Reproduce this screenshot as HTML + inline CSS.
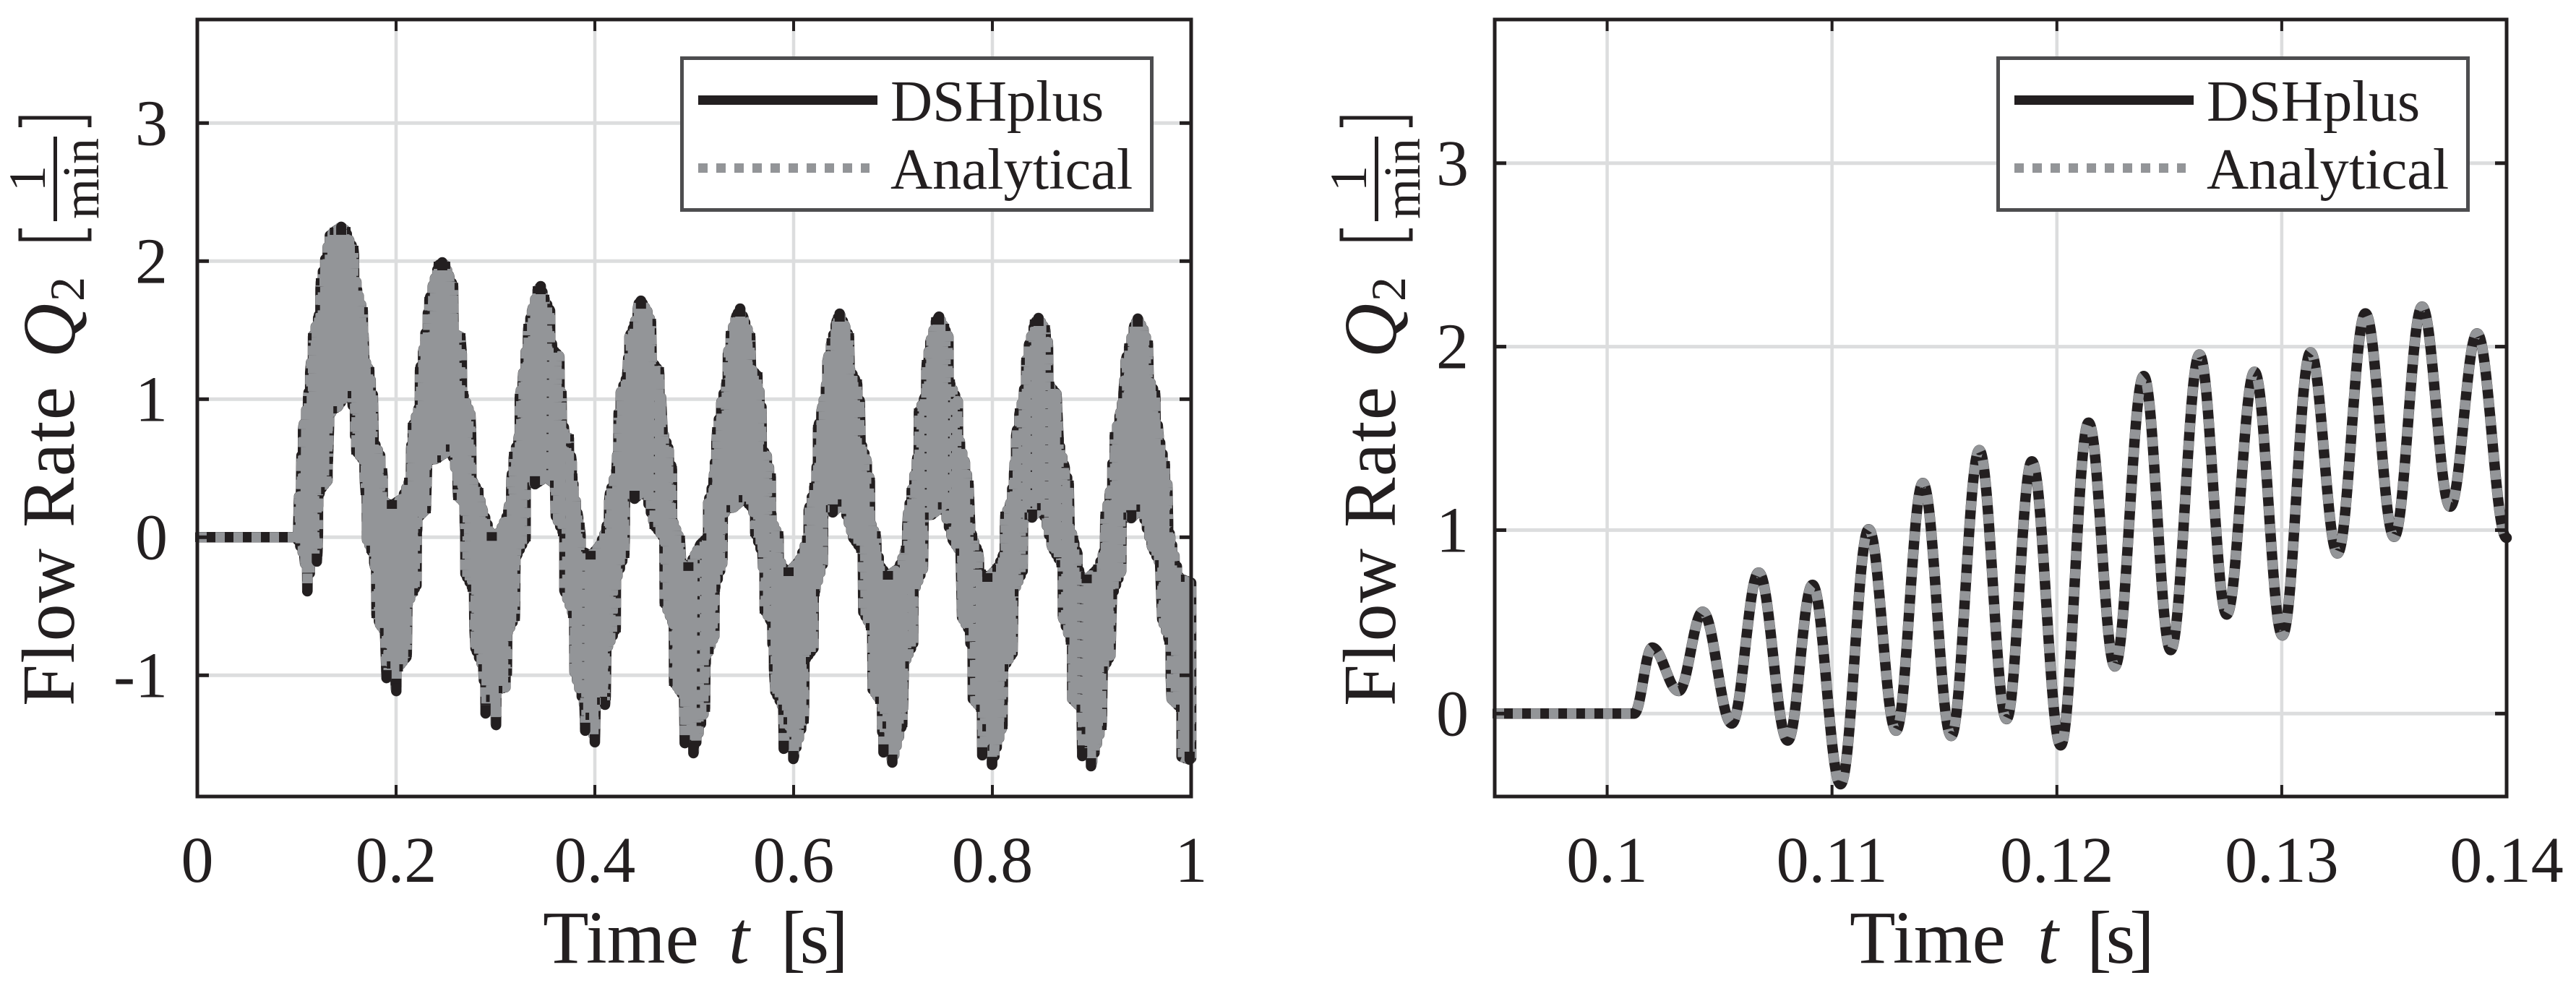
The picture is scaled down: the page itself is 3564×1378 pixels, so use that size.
<!DOCTYPE html>
<html lang="en">
<head>
<meta charset="utf-8">
<title>Flow Rate Q2 comparison: DSHplus vs Analytical</title>
<style>
html,body{margin:0;padding:0;background:#fff;}
svg{display:block;}
text{font-family:"Liberation Serif","DejaVu Serif",serif;fill:#231f20;}
</style>
</head>
<body>
<svg id="figure" xmlns="http://www.w3.org/2000/svg" width="3564" height="1378" viewBox="0 0 3564 1378">
  <rect x="0" y="0" width="3564" height="1378" fill="#ffffff"/>
  <defs>
    <clipPath id="clip-left"><rect x="270" y="20" width="1386" height="1090"/></clipPath>
    <clipPath id="clip-right"><rect x="2065" y="20" width="1411" height="1090"/></clipPath>
  </defs>
  <g id="panel-left"></g>
  <g id="panel-right"></g>

  <g>
    <text transform="translate(102,977) rotate(-90)" font-size="104" textLength="442" lengthAdjust="spacing">Flow Rate</text>
    <text transform="translate(103,495) rotate(-90)" font-size="104" font-style="italic">Q</text>
    <text transform="translate(116,417) rotate(-90)" font-size="68">2</text>
    <path d="M28,316V331H124V316" fill="none" stroke="#231f20" stroke-width="5"/>
    <path d="M28,176V163H124V176" fill="none" stroke="#231f20" stroke-width="5"/>
    <text transform="translate(62,247) rotate(-90)" font-size="72" text-anchor="middle">1</text>
    <rect x="74" y="189" width="5" height="117" fill="#231f20"/>
    <text transform="translate(136,247) rotate(-90)" font-size="72" text-anchor="middle">min</text>
  </g>
  <g>
    <text x="751" y="1332" font-size="104">Time</text>
    <text x="1008" y="1332" font-size="104" font-style="italic">t</text>
    <text x="1080" y="1332" font-size="104" letter-spacing="-8">[s]</text>
  </g>

  <g>
    <text transform="translate(1930,977) rotate(-90)" font-size="104" textLength="442" lengthAdjust="spacing">Flow Rate</text>
    <text transform="translate(1931,495) rotate(-90)" font-size="104" font-style="italic">Q</text>
    <text transform="translate(1944,417) rotate(-90)" font-size="68">2</text>
    <path d="M1856,316V331H1952V316" fill="none" stroke="#231f20" stroke-width="5"/>
    <path d="M1856,176V163H1952V176" fill="none" stroke="#231f20" stroke-width="5"/>
    <text transform="translate(1890,247) rotate(-90)" font-size="72" text-anchor="middle">1</text>
    <rect x="1902" y="189" width="5" height="117" fill="#231f20"/>
    <text transform="translate(1964,247) rotate(-90)" font-size="72" text-anchor="middle">min</text>
  </g>
  <g>
    <text x="2559" y="1332" font-size="104">Time</text>
    <text x="2819" y="1332" font-size="104" font-style="italic">t</text>
    <text x="2887" y="1332" font-size="104" letter-spacing="-8">[s]</text>
  </g>

  <g id="legend-left">
    <rect x="943.5" y="80.5" width="650" height="210" fill="#ffffff" stroke="#4d4d4f" stroke-width="5"/>
    <line x1="966" y1="138.5" x2="1214" y2="138.5" stroke="#231f20" stroke-width="13"/>
    <text x="1232" y="167" font-size="80.5">DSHplus</text>
    <line x1="966" y1="232.5" x2="1203" y2="232.5" stroke="#939598" stroke-width="13" stroke-dasharray="13 12"/>
    <text x="1232" y="261" font-size="80.5">Analytical</text>
  </g>
  <g id="legend-right">
    <rect x="2764.5" y="80.5" width="650" height="210" fill="#ffffff" stroke="#4d4d4f" stroke-width="5"/>
    <line x1="2787" y1="138.5" x2="3035" y2="138.5" stroke="#231f20" stroke-width="13"/>
    <text x="3053" y="167" font-size="80.5">DSHplus</text>
    <line x1="2787" y1="232.5" x2="3024" y2="232.5" stroke="#939598" stroke-width="13" stroke-dasharray="13 12"/>
    <text x="3053" y="261" font-size="80.5">Analytical</text>
  </g>
</svg>

<script>
/* ---------- left panel: tick values and labels ---------- */
var leftXTicks = [0, 0.2, 0.4, 0.6, 0.8, 1];
var leftXTickLabels = ["0", "0.2", "0.4", "0.6", "0.8", "1"];
var leftYTicks = [-1, 0, 1, 2, 3];
var leftYTickLabels = ["-1", "0", "1", "2", "3"];

/* ---------- left panel: flow-rate band (upper edge) ---------- */
var upperTimes = [
0.1,0.1064,0.1114,0.1136,0.1164,0.1224,0.1244,0.1334,0.1384,0.1448,0.1491,0.1527,0.1571,0.1607,0.1665,0.1679,0.173,0.1766,0.1774,0.1839,0.186,0.1889,
0.1958,0.206,0.2132,0.2154,0.2169,0.2227,0.2241,0.2277,0.2335,0.2371,0.2429,0.2465,0.2494,0.2531,0.2574,0.2578,0.2647,0.2661,0.2675,0.2748,0.2755,0.277,0.2828,0.2864,
0.2963,0.3043,0.3129,0.3166,0.3187,0.3238,0.3245,0.3274,0.3332,0.3368,0.3426,0.3455,0.3491,0.3549,0.3571,0.3643,0.3665,0.3694,0.3738,0.3767,0.3774,0.3825,0.3846,0.3875,
0.3957,0.4044,0.4116,0.4152,0.4218,0.4225,0.4239,0.4261,0.4326,0.4348,0.4399,0.4442,0.4464,0.4529,0.4565,0.4572,0.4645,0.4666,0.4681,0.4739,0.4775,0.479,0.4855,0.4869,
0.4941,0.5064,0.5137,0.514,0.5194,0.5209,0.5231,0.5274,0.5325,0.5339,0.5368,0.5426,0.5462,0.5498,0.5564,0.5571,0.5636,0.5676,0.5679,0.573,0.577,0.5777,0.5846,0.5875,
0.5949,0.6058,0.6137,0.6152,0.621,0.6231,0.6246,0.6289,0.6325,0.634,0.6383,0.6434,0.6463,0.6513,0.6557,0.6564,0.6637,0.6666,0.6673,0.6731,0.6767,0.6774,0.6825,0.6868,
0.6949,0.7058,0.713,0.7152,0.7188,0.7246,0.7261,0.7319,0.734,0.7376,0.7434,0.7463,0.7514,0.7557,0.7572,0.7652,0.7674,0.7724,0.776,0.7775,0.7796,0.7854,0.7883,
0.795,0.8051,0.8109,0.8131,0.8182,0.8218,0.8239,0.8276,0.8316,0.8341,0.837,0.8428,0.8464,0.8529,0.8558,0.8572,0.8645,0.8667,0.8721,0.8768,0.8775,0.8812,0.8855,0.8877,
0.8949,0.9065,0.9123,0.9138,0.9181,0.9232,0.929,0.9319,0.934,0.9377,0.9428,0.9463,0.9521,0.9565,0.9572,0.9637,0.9673,0.9735,0.976,0.9768,0.9789,0.9883,0.9956,1];
var upperValues = [
0,0.787,0.996,1.19,1.452,1.609,1.85,2.185,2.216,2.248,2.221,2.153,2.085,1.792,1.64,1.295,1.206,1.033,0.698,0.593,0.473,0.248,
0.232,0.279,0.405,0.666,0.803,0.933,1.206,1.363,1.714,1.824,1.97,1.991,1.97,1.897,1.817,1.478,1.452,1.326,1.033,0.892,0.735,0.405,0.331,0.211,
0,0.038,0.174,0.457,0.593,0.735,1.012,1.153,1.52,1.64,1.792,1.818,1.73,1.64,1.363,1.31,1.033,0.735,0.719,0.541,0.436,0.174,0.08,-0.103,
-0.135,-0.066,0.054,0.316,0.489,0.593,0.892,1.049,1.169,1.452,1.536,1.693,1.713,1.635,1.556,1.274,1.206,1.012,0.771,0.646,0.489,0.106,-0.014,-0.192,
-0.218,-0.051,0.002,0.248,0.405,0.541,0.771,0.981,1.117,1.326,1.468,1.604,1.656,1.583,1.452,1.221,1.169,0.944,0.646,0.588,0.436,0.122,0.017,-0.208,
-0.255,-0.171,-0.014,0.195,0.368,0.489,0.787,0.944,1.064,1.274,1.415,1.567,1.619,1.536,1.452,1.221,1.117,0.981,0.698,0.562,0.405,0.106,0.017,-0.208,
-0.281,-0.224,-0.087,0.174,0.331,0.577,0.907,1.012,1.258,1.415,1.567,1.598,1.52,1.452,1.117,0.981,0.666,0.541,0.384,0.106,0.002,-0.103,-0.26,
-0.297,-0.224,-0.129,0.159,0.248,0.457,0.735,0.907,1.033,1.274,1.399,1.551,1.588,1.51,1.415,1.101,1.038,0.698,0.525,0.384,0.106,-0.014,-0.119,-0.276,
-0.307,-0.224,-0.103,0.159,0.305,0.735,0.907,1.033,1.274,1.378,1.53,1.583,1.504,1.399,1.153,1.038,0.735,0.525,0.384,0.106,0.002,-0.297,-0.318,-0.33];

/* ---------- left panel: flow-rate band (lower edge) ---------- */
var lowerTimes = [
0.1,0.1078,0.1107,0.1158,0.1202,0.1209,0.1214,0.1216,0.1231,0.131,0.1314,0.1326,0.1354,0.1412,0.1498,0.1556,0.16,0.1672,0.1694,0.1708,0.1752,0.1788,0.1803,0.1839,0.1889,0.1904,
0.1958,0.2002,0.2018,0.2103,0.2108,0.2113,0.2169,0.2205,0.2208,0.2227,0.2299,0.2313,0.24,0.2502,0.2552,0.2596,0.2625,0.2675,0.2697,0.2698,0.277,0.2799,0.2878,0.29,
0.2956,0.3006,0.3018,0.31,0.3115,0.3118,0.3195,0.3209,0.3303,0.331,0.3397,0.3506,0.36,0.3607,0.368,0.3694,0.3781,0.3796,0.3897,0.3903,
0.3957,0.4,0.4008,0.4102,0.4109,0.4115,0.421,0.4212,0.4297,0.4312,0.4399,0.45,0.4601,0.4695,0.4703,0.479,0.4797,0.4898,0.4905,
0.4941,0.4992,0.5093,0.5108,0.5112,0.5144,0.5202,0.5209,0.5281,0.531,0.5397,0.5499,0.5593,0.5614,0.5687,0.5709,0.5774,0.5803,0.5817,0.5897,0.5901,
0.5949,0.5997,0.6101,0.6105,0.6109,0.6199,0.621,0.6294,0.6311,0.6394,0.6496,0.66,0.6681,0.6702,0.6778,0.6796,0.6872,0.6905,
0.6945,0.6993,0.7094,0.7101,0.7109,0.7203,0.7205,0.7301,0.7308,0.7391,0.7503,0.7601,0.7681,0.7695,0.7775,0.7804,0.7887,0.7898,
0.795,0.7997,0.8102,0.8105,0.8109,0.8203,0.8211,0.8305,0.8309,0.8399,0.85,0.8602,0.8696,0.871,0.879,0.8804,0.8898,0.8904,
0.8949,0.8993,0.9098,0.9101,0.9109,0.9188,0.9203,0.9297,0.9304,0.9398,0.95,0.9608,0.9688,0.9709,0.9782,0.9804,0.9898,0.9904,0.9985,1];
var lowerValues = [
0,-0.14,-0.391,-0.124,-0.176,-0.107,0.033,0.227,0.337,0.41,0.557,0.834,0.923,0.944,1.033,1.028,0.625,0.557,0.331,-0.019,-0.087,-0.213,-0.559,-0.632,-0.684,-1.02,
-0.925,-1.114,-0.946,-0.868,-0.841,-0.491,-0.396,-0.349,0.033,0.148,0.2,0.557,0.567,0.614,0.646,0.504,0.295,0.258,0.033,-0.265,-0.369,-0.805,-0.946,-1.276,
-1.167,-1.36,-1.103,-1.087,-0.977,-0.7,-0.58,-0.14,-0.004,0.436,0.384,0.436,0.384,0.153,0.033,-0.386,-0.559,-0.977,-1.224,-1.401,
-1.297,-1.485,-1.187,-1.213,-1.155,-0.82,-0.663,-0.317,-0.124,0.384,0.279,0.342,0.085,-0.004,-0.474,-0.632,-1.051,-1.155,-1.491,
-1.292,-1.564,-1.281,-1.239,-0.925,-0.82,-0.716,-0.369,-0.192,0.206,0.216,0.279,0.206,0.033,-0.124,-0.527,-0.611,-0.946,-1.119,-1.239,-1.532,
-1.33,-1.606,-1.323,-1.239,-0.894,-0.805,-0.402,-0.192,0.206,0.18,0.248,-0.004,-0.087,-0.543,-0.648,-1.103,-1.181,-1.558,
-1.36,-1.632,-1.349,-1.239,-0.925,-0.768,-0.402,-0.229,0.153,0.164,0.227,-0.019,-0.108,-0.579,-0.684,-1.171,-1.239,-1.579,
-1.38,-1.648,-1.364,-1.187,-0.946,-0.841,-0.402,-0.244,0.153,0.143,0.221,-0.071,-0.192,-0.579,-0.752,-1.171,-1.239,-1.585,
-1.4,-1.658,-1.37,-1.328,-0.962,-0.857,-0.423,-0.244,0.153,0.138,0.211,-0.071,-0.192,-0.595,-0.752,-1.171,-1.239,-1.59,-1.611,-1.6];

/* ---------- right panel: tick values and labels ---------- */
var rightXTicks = [0.1, 0.11, 0.12, 0.13, 0.14];
var rightXTickLabels = ["0.1", "0.11", "0.12", "0.13", "0.14"];
var rightYTicks = [0, 1, 2, 3];
var rightYTickLabels = ["0", "1", "2", "3"];

/* ---------- right panel: turning points of the flow rate ---------- */
var zoomTimes = [0.095,0.1012,0.102,0.10318,0.10425,0.10554,0.10674,0.10803,0.10913,0.11038,0.11163,0.11285,0.11404,0.1153,0.11655,0.11776,0.11889,0.12017,0.12141,0.12258,0.12386,0.12506,0.12634,0.12755,0.12879,0.13003,0.13128,0.13248,0.13372,0.135,0.13624,0.13749,0.13869,0.14];
var zoomValues = [0,0,0.36,0.123,0.555,-0.054,0.769,-0.147,0.702,-0.385,1.005,-0.093,1.257,-0.122,1.436,-0.03,1.375,-0.173,1.586,0.257,1.84,0.346,1.957,0.54,1.863,0.426,1.969,0.873,2.181,0.963,2.218,1.128,2.072,0.958];

/* ---------- helpers ---------- */
var NS = "http://www.w3.org/2000/svg";
var INK = "#231f20", GRAY = "#939598", GRID = "#dcddde";

function make(tag, attrs, parent) {
  var el = document.createElementNS(NS, tag);
  for (var k in attrs) el.setAttribute(k, attrs[k]);
  parent.appendChild(el);
  return el;
}
function scale(d0, d1, r0, r1) {
  return function (v) { return r0 + (v - d0) * (r1 - r0) / (d1 - d0); };
}
function lerpAt(ts, vs, t) {
  if (t <= ts[0]) return vs[0];
  for (var i = 1; i < ts.length; i++) {
    if (t <= ts[i]) {
      var dt = ts[i] - ts[i - 1];
      if (dt <= 0) return vs[i];
      return vs[i - 1] + (vs[i] - vs[i - 1]) * (t - ts[i - 1]) / dt;
    }
  }
  return vs[vs.length - 1];
}

function drawGrid(g, b, x, y, xt, yt) {
  var i, el;
  for (i = 0; i < xt.length; i++) {
    if (x(xt[i]) > b.l + 3 && x(xt[i]) < b.r - 3) {
      el = make("line", {x1: x(xt[i]), x2: x(xt[i]), y1: b.t, y2: b.b, stroke: GRID, "stroke-width": 4.5}, g);
      
      
    }
  }
  for (i = 0; i < yt.length; i++) {
    el = make("line", {x1: b.l, x2: b.r, y1: y(yt[i]), y2: y(yt[i]), stroke: GRID, "stroke-width": 5}, g);
    
    
  }
}
function drawAxes(g, b, x, y, xt, xl, yt, yl, labelX) {
  var i, el, px, py;
  el = make("rect", {x: b.l, y: b.t, width: b.r - b.l, height: b.b - b.t, fill: "none", stroke: INK, "stroke-width": 5}, g);
  
  
  for (i = 0; i < xt.length; i++) {
    px = x(xt[i]);
    if (px > b.l + 3 && px < b.r - 3) {
      el = make("line", {x1: px, x2: px, y1: b.t, y2: b.t + 16, stroke: INK, "stroke-width": 4}, g);
      
      
      el = make("line", {x1: px, x2: px, y1: b.b, y2: b.b - 16, stroke: INK, "stroke-width": 4}, g);
      
      
    }
    el = make("text", {x: px, y: 1220, "font-size": 90, "text-anchor": "middle"}, g);
    
    
    el.textContent = xl[i];
  }
  for (i = 0; i < yt.length; i++) {
    py = y(yt[i]);
    el = make("line", {x1: b.l, x2: b.l + 16, y1: py, y2: py, stroke: INK, "stroke-width": 5}, g);
    
    
    el = make("line", {x1: b.r, x2: b.r - 16, y1: py, y2: py, stroke: INK, "stroke-width": 5}, g);
    
    
    el = make("text", {x: labelX, y: py + 30, "font-size": 90, "text-anchor": "end"}, g);
    
    
    el.textContent = yl[i];
  }
}
function drawSeries(g, d, clip) {
  var c = make("g", {"clip-path": "url(#" + clip + ")"}, g);
  
  
  var el = make("path", {d: d, fill: "none", stroke: INK, "stroke-width": 14.5, "stroke-linejoin": "round", "stroke-linecap": "round"}, c);
  
  
  el = make("path", {d: d, fill: "none", stroke: GRAY, "stroke-width": 14, "stroke-linejoin": "round", "stroke-linecap": "butt", "stroke-dasharray": "13 12"}, c);
  
  
  return c;
}
/* black marks of the DSHplus line that show through at the band's corners and tips */
function edgeMarks(ts, vs, x, y, isUpper) {
  var d = "";
  for (var i = 1; i < ts.length - 1; i++) {
    var q = vs[i], a = vs[i - 1], b = vs[i + 1], px = x(ts[i]), py = y(q);
    var outerTip = isUpper ? (q >= a && q >= b) : (q <= a && q <= b);
    var innerTip = isUpper ? (q <= a && q <= b) : false;
    if (outerTip) {
      if (isUpper) {
        d += "M" + (px - 7).toFixed(1) + "," + (py + 11).toFixed(1) + "V" + py.toFixed(1) + "A7 7 0 0 1 " + (px + 7).toFixed(1) + "," + py.toFixed(1) + "V" + (py + 11).toFixed(1) + "Z";
      } else {
        d += "M" + (px - 7).toFixed(1) + "," + (py - 11).toFixed(1) + "V" + py.toFixed(1) + "A7 7 0 0 0 " + (px + 7).toFixed(1) + "," + py.toFixed(1) + "V" + (py - 11).toFixed(1) + "Z";
      }
    } else if (innerTip) {
      d += "M" + (px - 7).toFixed(1) + "," + (py - 7).toFixed(1) + "h14v12h-14Z";
    } else if (i % 2 === 0) {
      var rising = b > a;
      var leftSide = isUpper ? rising : !rising;
      var sx = leftSide ? px - 7 : px + 2;
      d += "M" + sx.toFixed(1) + "," + (py - 5).toFixed(1) + "h5v10h-5Z";
    }
  }
  return d;
}

/* ---------- left panel ---------- */
(function () {
  var g = document.getElementById("panel-left");
  var b = {l: 273, r: 1648, t: 27, b: 1102};
  var x = scale(0, 1, b.l, b.r);
  var y = scale(-1.878, 3.75, b.b, b.t);
  drawGrid(g, b, x, y, leftXTicks, leftYTicks);

  var verts = [];
  var step = 0.0012, start = upperTimes[0], n = Math.round((1 - start) / step), i;
  for (i = 1; i <= n; i++) {
    var t = start + i * step;
    verts.push({t: t, q: (i % 2) ? lerpAt(lowerTimes, lowerValues, t) : lerpAt(upperTimes, upperValues, t)});
  }
  for (i = 0; i < upperTimes.length; i++) verts.push({t: upperTimes[i], q: upperValues[i]});
  for (i = 0; i < lowerTimes.length; i++) verts.push({t: lowerTimes[i], q: lowerValues[i]});
  verts.sort(function (p, r) { return p.t - r.t; });

  var d = "M" + x(0) + "," + y(0);
  for (i = 0; i < verts.length; i++) {
    d += "L" + x(verts[i].t).toFixed(1) + "," + y(verts[i].q).toFixed(1);
  }
  var series = drawSeries(g, d, "clip-left");
  var marks = make("path", {d: edgeMarks(upperTimes, upperValues, x, y, true) + edgeMarks(lowerTimes, lowerValues, x, y, false), fill: INK, stroke: "none"}, series);
  
  
  drawAxes(g, b, x, y, leftXTicks, leftXTickLabels, leftYTicks, leftYTickLabels, 232);
})();

/* ---------- right panel ---------- */
(function () {
  var g = document.getElementById("panel-right");
  var b = {l: 2068, r: 3468, t: 27, b: 1102};
  var x = scale(0.095, 0.14, b.l, b.r);
  var y = scale(-0.452, 3.783, b.b, b.t);
  drawGrid(g, b, x, y, rightXTicks, rightYTicks);
  var d = "M" + x(zoomTimes[0]) + "," + y(zoomValues[0]);
  for (var i = 1; i < zoomTimes.length; i++) {
    var x0 = x(zoomTimes[i - 1]), x1 = x(zoomTimes[i]);
    var y0 = y(zoomValues[i - 1]), y1 = y(zoomValues[i]);
    var k = (x1 - x0) * 0.38;
    d += "C" + (x0 + k).toFixed(1) + "," + y0.toFixed(1) + " " + (x1 - k).toFixed(1) + "," + y1.toFixed(1) + " " + x1.toFixed(1) + "," + y1.toFixed(1);
  }
  drawSeries(g, d, "clip-right");
  drawAxes(g, b, x, y, rightXTicks, rightXTickLabels, rightYTicks, rightYTickLabels, 2032);
})();
</script>
</body>
</html>
